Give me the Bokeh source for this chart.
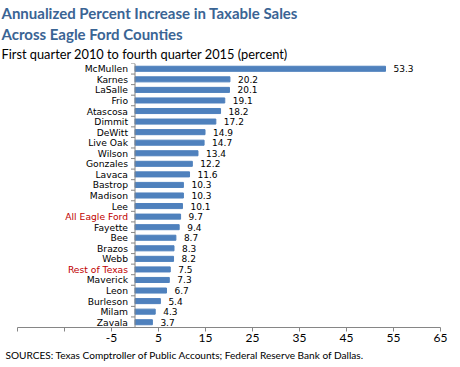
from bokeh.plotting import figure
from bokeh.models import (ColumnDataSource, Range1d, FixedTicker, LinearAxis, Title, Span)
from bokeh.core.properties import value
from bokeh.embed import file_html
from bokeh.resources import INLINE

counties = ["McMullen", "Karnes", "LaSalle", "Frio", "Atascosa", "Dimmit", "DeWitt",
            "Live Oak", "Wilson", "Gonzales", "Lavaca", "Bastrop", "Madison", "Lee",
            "All Eagle Ford", "Fayette", "Bee", "Brazos", "Webb", "Rest of Texas",
            "Maverick", "Leon", "Burleson", "Milam", "Zavala"]
increase = [53.3, 20.2, 20.1, 19.1, 18.2, 17.2, 14.9, 14.7, 13.4, 12.2, 11.6, 10.3, 10.3,
            10.1, 9.7, 9.4, 8.7, 8.3, 8.2, 7.5, 7.3, 6.7, 5.4, 4.3, 3.7]
highlighted = ["All Eagle Ford", "Rest of Texas"]
x_ticks = [-25, -15, -5, 5, 15, 25, 35, 45, 55, 65]
x_tick_labels = ["", "", "-5", "5", "15", "25", "35", "45", "55", "65"]

AXIS_GRAY = "#868686"
TITLE_BLUE = "#3A6494"

n = len(counties)
pos = [n - 1 - i for i in range(n)]
src = ColumnDataSource(dict(
    county=counties, val=increase, y=pos,
    lab=[f"{v:.1f}" for v in increase],
    col=["#C00000" if c in highlighted else "#000000" for c in counties],
))
bounds = ColumnDataSource(dict(y=[i - 0.5 for i in range(n + 1)], x=[0] * (n + 1)))

p = figure(width=460, height=367, output_backend="svg", toolbar_location=None,
           x_range=Range1d(x_ticks[0], x_ticks[-1]), y_range=Range1d(-0.5, n - 0.5),
           x_axis_location=None, y_axis_location=None,
           min_border_left=17, min_border_right=20, min_border_top=63, min_border_bottom=40)
p.outline_line_color = None
p.xgrid.visible = False
p.ygrid.visible = False

p.hbar(y="y", right="val", left=0, height=0.48, source=src, color="#4F81BD")

# vertical category axis at x = 0 with tick marks between categories
p.add_layout(Span(location=0, dimension="height", line_color=AXIS_GRAY, line_width=1))
p.ray(x="x", y="y", source=bounds, length=4, length_units="screen", angle=180,
      angle_units="deg", line_color=AXIS_GRAY, line_width=1)

p.text(x="val", y="y", text="lab", source=src, x_offset=8, text_baseline="middle",
       text_align="left", text_font=value("DejaVu Sans"), text_font_size="9px",
       text_color="#000000")
p.text(x=0, y="y", text="county", source=src, x_offset=-7, text_baseline="middle",
       text_align="right", text_font=value("DejaVu Sans"), text_font_size="9.2px",
       text_color="col")

xax = LinearAxis(ticker=FixedTicker(ticks=x_ticks),
                 major_label_overrides={t: l for t, l in zip(x_ticks, x_tick_labels)},
                 major_tick_out=4, major_tick_in=0, minor_tick_line_color=None,
                 axis_line_color=AXIS_GRAY, major_tick_line_color=AXIS_GRAY,
                 major_label_text_font="Lato", major_label_text_font_size="12px",
                 major_label_text_color="#000000", major_label_standoff=2)
p.add_layout(xax, "below")

p.add_layout(Title(text="SOURCES: Texas Comptroller of Public Accounts; Federal Reserve Bank of Dallas.",
                   align="left", text_font="Lato", text_font_size="10.1px",
                   text_font_style="normal", text_color="#000000", offset=-12,
                   standoff=4), "below")

p.add_layout(Title(text="First quarter 2010 to fourth quarter 2015 (percent)",
                   align="left", text_font="Lato", text_font_size="12.8px",
                   text_font_style="normal", text_color="#000000", offset=-16,
                   standoff=3), "above")
p.add_layout(Title(text="Across Eagle Ford Counties", align="left", text_font="Lato",
                   text_font_size="15px", text_font_style="bold", text_color=TITLE_BLUE,
                   offset=-16, standoff=0), "above")
p.add_layout(Title(text="Annualized Percent Increase in Taxable Sales", align="left",
                   text_font="Lato", text_font_size="15px", text_font_style="bold",
                   text_color=TITLE_BLUE, offset=-16, standoff=2), "above")

open("out.html", "w").write(file_html(p, INLINE))
